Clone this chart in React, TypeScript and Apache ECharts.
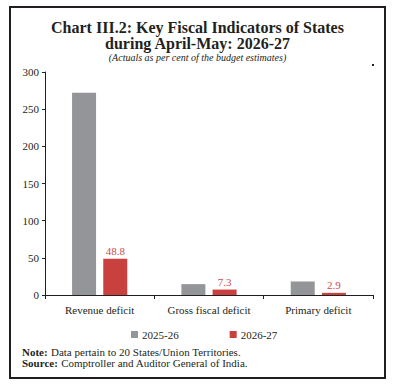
import React, { useEffect, useRef } from "react";
import * as echarts from "echarts";

const categories = ["Revenue deficit", "Gross fiscal deficit", "Primary deficit"];
const series2025 = [272, 14.6, 18.2];
const series2026 = [48.8, 7.3, 2.9];
const seriesNames = ["2025-26", "2026-27"];
const yTicks = { min: 0, max: 300, interval: 50 };

const FONT = "'Liberation Serif', 'DejaVu Serif', serif";

export default function App() {
  const ref = useRef<HTMLDivElement>(null);
  useEffect(() => {
    document.body.style.margin = "0";
    const chart = echarts.init(ref.current!, null, { renderer: "svg" });
    chart.setOption({
      animation: false,
      backgroundColor: "#ffffff",
      textStyle: { fontFamily: FONT },
      title: [
        {
          text: "Chart III.2: Key Fiscal Indicators of States\nduring April-May: 2026-27",
          left: "center",
          top: 14,
          textStyle: { fontFamily: FONT, fontSize: 16, fontWeight: "bold", color: "#231f20", lineHeight: 16 },
        },
        {
          text: "(Actuals as per cent of the budget estimates)",
          left: "center",
          top: 47,
          textStyle: { fontFamily: FONT, fontSize: 10, fontStyle: "italic", fontWeight: "normal", color: "#231f20" },
        },
      ],
      legend: {
        data: seriesNames,
        top: 324,
        left: 126,
        itemWidth: 7,
        itemHeight: 7,
        itemGap: 51,
        icon: "rect",
        textStyle: { fontFamily: FONT, fontSize: 11, color: "#231f20", padding: [0, 0, 0, -1] },
      },
      grid: { left: 45, right: 22, top: 72, bottom: 94 },
      xAxis: {
        type: "category",
        data: categories,
        axisLine: { lineStyle: { color: "#231f20", width: 1 } },
        axisTick: { show: true, length: 4, inside: false, lineStyle: { color: "#231f20" } },
        axisLabel: { fontFamily: FONT, fontSize: 11, color: "#231f20", margin: 9 },
      },
      yAxis: {
        type: "value",
        min: yTicks.min,
        max: yTicks.max,
        interval: yTicks.interval,
        splitLine: { show: false },
        axisLine: { show: true, lineStyle: { color: "#231f20", width: 1 } },
        axisTick: { show: true, length: 3, lineStyle: { color: "#231f20" } },
        axisLabel: { fontFamily: FONT, fontSize: 11, color: "#231f20", margin: 6 },
      },
      series: [
        {
          name: seriesNames[0],
          type: "bar",
          data: series2025,
          barWidth: 24,
          barGap: "30%",
          itemStyle: { color: "#939598" },
        },
        {
          name: seriesNames[1],
          type: "bar",
          data: series2026,
          barWidth: 24,
          itemStyle: { color: "#c8413f" },
          label: {
            show: true,
            position: "top",
            distance: 2,
            fontFamily: FONT,
            fontSize: 11,
            color: "#d2494a",
            formatter: (p: any) => p.value.toFixed(1),
          },
        },
      ],
      graphic: [
        {
          type: "rect",
          shape: { x: 10, y: 7, width: 375, height: 371 },
          style: { fill: "none", stroke: "#231f20", lineWidth: 2 },
          silent: true,
        },
        {
          type: "rect",
          shape: { x: 372, y: 64, width: 2, height: 2 },
          style: { fill: "#231f20" },
        },
        {
          type: "text",
          left: 22,
          top: 346,
          style: {
            rich: {
              b: { fontFamily: FONT, fontSize: 11, fontWeight: "bold", fill: "#231f20" },
              n: { fontFamily: FONT, fontSize: 11, fill: "#231f20" },
            },
            text: "{b|Note:} {n|Data pertain to 20 States/Union Territories.}",
          },
        },
        {
          type: "text",
          left: 22,
          top: 357,
          style: {
            rich: {
              b: { fontFamily: FONT, fontSize: 11, fontWeight: "bold", fill: "#231f20" },
              n: { fontFamily: FONT, fontSize: 11, fill: "#231f20" },
            },
            text: "{b|Source:} {n|Comptroller and Auditor General of India.}",
          },
        },
      ],
    });
    return () => chart.dispose();
  }, []);
  return <div ref={ref} style={{ width: 395, height: 389 }} />;
}
